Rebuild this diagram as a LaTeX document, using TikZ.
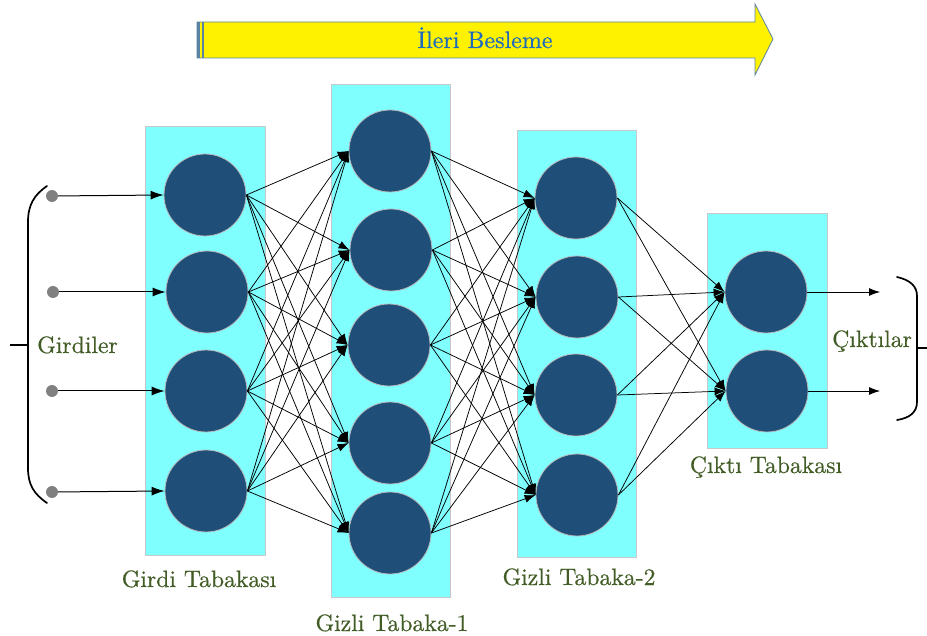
\documentclass[tikz,border=0pt]{standalone}
\usepackage{fontspec}
\newfontfamily\labelfont{lmroman10-regular}[Extension=.otf, BoldFont=lmroman10-regular, BoldFeatures={FakeBold=0.5}]
\usetikzlibrary{arrows.meta}
\definecolor{nodeblue}{RGB}{31,78,121}
\definecolor{layercyan}{RGB}{128,255,255}
\definecolor{layerline}{RGB}{200,200,200}
\definecolor{labelgreen}{RGB}{66,92,38}
\definecolor{titleblue}{RGB}{31,108,188}
\definecolor{arrowedge}{RGB}{90,130,165}
\definecolor{dotgray}{RGB}{128,128,128}
\tikzset{
  layerbox/.style={draw=layerline, line width=0.8pt, fill=layercyan, inner sep=0pt},
  neuron/.style={circle, draw=gray!55, line width=0.8pt, fill=nodeblue, minimum size=82pt, inner sep=0pt},
  indot/.style={circle, fill=dotgray, minimum size=12pt, inner sep=0pt},
  conn/.style={line width=0.75pt, -{Latex[length=11pt,width=8pt]}},
  inarrow/.style={line width=1pt, -{Latex[length=13pt,width=9pt]}},
  lbl/.style={text=labelgreen, font=\labelfont\bfseries\fontsize{23.7}{28}\selectfont, inner sep=0pt, anchor=base},
  bracestyle/.style={line width=1.7pt, line cap=round}
}
\begin{document}
\begin{tikzpicture}[x=1pt,y=-1pt]
\useasboundingbox (0,0) rectangle (927,636);
% feed-forward arrow
\filldraw[fill=yellow, draw=arrowedge, line width=0.8pt]
  (197,22) -- (755,22) -- (755,4) -- (773,39) -- (755,75) -- (755,58) -- (197,58) -- cycle;
\fill[arrowedge] (197,22) rectangle (199.5,58);
\fill[arrowedge] (201.5,22) rectangle (203.5,58);
\node[text=titleblue, font=\labelfont\bfseries\fontsize{24}{29}\selectfont, inner sep=0pt, anchor=base] (title) at (485,48) {İleri Besleme};
% layer boxes
\node[layerbox, minimum width=120pt, minimum height=429pt] (L1) at (205,340.5) {};
\node[layerbox, minimum width=119pt, minimum height=513pt] (L2) at (390.5,340.5) {};
\node[layerbox, minimum width=119pt, minimum height=427pt] (L3) at (576.5,343.5) {};
\node[layerbox, minimum width=120pt, minimum height=235pt] (L4) at (767,330.5) {};
% neurons
\node[neuron] (a1) at (205,195) {};
\node[neuron] (a2) at (207,292) {};
\node[neuron] (a3) at (206,391) {};
\node[neuron] (a4) at (206,491) {};
\node[neuron] (b1) at (390,151) {};
\node[neuron] (b2) at (391,250) {};
\node[neuron] (b3) at (389,345) {};
\node[neuron] (b4) at (390,443) {};
\node[neuron] (b5) at (390,533) {};
\node[neuron] (c1) at (576,198) {};
\node[neuron] (c2) at (577,297) {};
\node[neuron] (c3) at (576,395) {};
\node[neuron] (c4) at (577,495) {};
\node[neuron] (d1) at (766,292) {};
\node[neuron] (d2) at (767,391) {};
% input dots
\node[indot] (x1) at (52,196) {};
\node[indot] (x2) at (53,292) {};
\node[indot] (x3) at (52,391) {};
\node[indot] (x4) at (52,492) {};
\foreach \i in {1,2,3,4} {\draw[inarrow] (x\i) -- (a\i.west);}
% connections
\foreach \s in {1,2,3,4} {\foreach \t in {1,2,3,4,5} {\draw[conn] (a\s.east) -- (b\t.west);}}
\foreach \s in {1,2,3,4,5} {\foreach \t in {1,2,3,4} {\draw[conn] (b\s.east) -- (c\t.west);}}
\foreach \s in {1,2,3,4} {\foreach \t in {1,2} {\draw[conn] (c\s.east) -- (d\t.west);}}
% outputs
\coordinate (y1) at (880,292);
\coordinate (y2) at (880,391);
\draw[conn] (d1.east) -- (y1);
\draw[conn] (d2.east) -- (y2);
% braces
\draw[bracestyle] (47,186) .. controls (34,195) and (28,205) .. (28,222) -- (28,468) .. controls (28,485) and (34,494) .. (47,503);
\draw[line width=1.7pt] (10,345) -- (28,345);
\draw[bracestyle] (897,277) .. controls (910,280) and (917,286) .. (917,296) -- (917,402) .. controls (917,412) and (910,418) .. (897,420);
\draw[line width=1.7pt] (917,348) -- (927,348);
% labels
\node[lbl, anchor=base west] (inlbl) at (37,353) {Girdiler};
\node[lbl, anchor=base west] (outlbl) at (832,347) {Çıktılar};
\node[lbl] (t1) at (199,587) {Girdi Tabakası};
\node[lbl] (t2) at (392,631) {Gizli Tabaka-1};
\node[lbl] (t3) at (579,585) {Gizli Tabaka-2};
\node[lbl] (t4) at (766,473) {Çıktı Tabakası};
\end{tikzpicture}
\end{document}
